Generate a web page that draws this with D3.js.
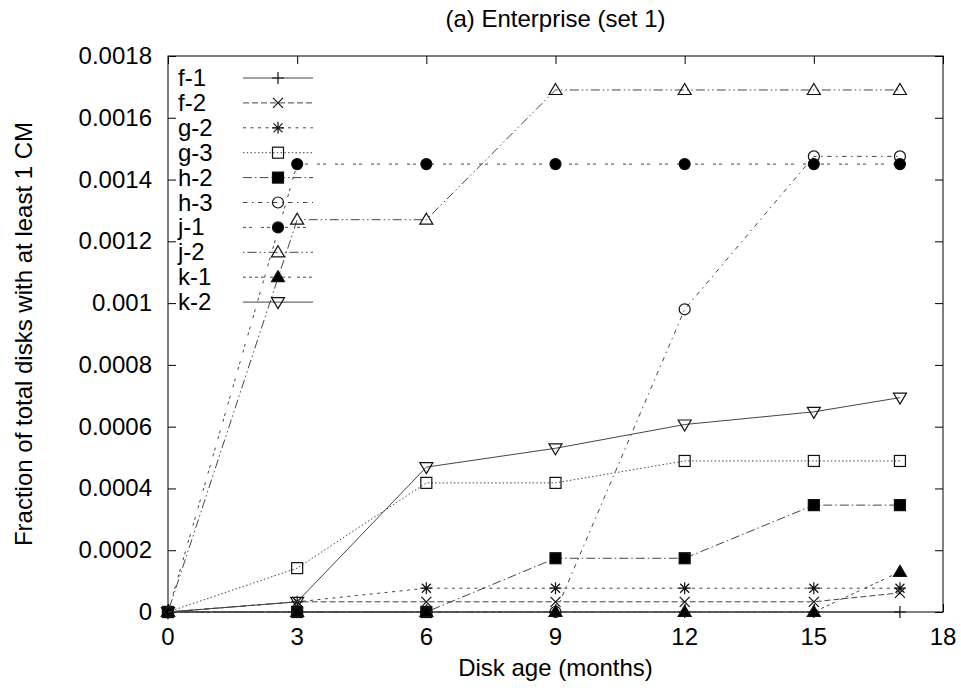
<!DOCTYPE html>
<html>
<head>
<meta charset="utf-8">
<script src="https://cdn.jsdelivr.net/npm/d3@7"></script>
<style>
  body { margin: 0; background: #fff; }
  svg text { font-family: "Liberation Sans", Arial, Helvetica, sans-serif; fill: #000; }
</style>
</head>
<body>
<svg id="chart" width="961" height="691"></svg>
<script>
// Disk age in months at which each fraction was measured
const months = [0, 3, 6, 9, 12, 15, 17];

// Disk models
const seriesNames = ["f-1", "f-2", "g-2", "g-3", "h-2", "h-3", "j-1", "j-2", "k-1", "k-2"];

// Fraction of disks with at least one CM, per model
const f1 = [0, 0, 0, 0, 0, 0, 0];
const f2 = [0, 0.000033, 0.000033, 0.000033, 0.000033, 0.000033, 0.000062];
const g2 = [0, 0.000033, 0.000077, 0.000077, 0.000077, 0.000077, 0.000077];
const g3 = [0, 0.000142, 0.000418, 0.000418, 0.000489, 0.000489, 0.000489];
const h2 = [0, 0, 0, 0.000174, 0.000174, 0.000346, 0.000346];
const h3 = [0, 0, 0, 0, 0.00098, 0.001475, 0.001475];
const j1 = [0, 0.00145, 0.00145, 0.00145, 0.00145, 0.00145, 0.00145];
const j2 = [0, 0.00127, 0.00127, 0.00169, 0.00169, 0.00169, 0.00169];
const k1 = [0, 0, 0, 0, 0, 0, 0.00013];
const k2 = [0, 0.000033, 0.000469, 0.00053, 0.000607, 0.000648, 0.000694];

// Axis ticks
const xTicks = [0, 3, 6, 9, 12, 15, 18];
const yTicks = [0, 0.0002, 0.0004, 0.0006, 0.0008, 0.001, 0.0012, 0.0014, 0.0016, 0.0018];

// Title and axis labels
const titleText = "(a) Enterprise (set 1)";
const xLabel = "Disk age (months)";
const yLabel = "Fraction of total disks with at least 1 CM";

// ---- styling (gnuplot-style line types and point types) ----
const dashUnits = [[], [4, 2], [2, 3], [1, 1.5], [6, 2, 1, 2], [3, 3, 1, 3], [2, 2, 2, 6],
                   [1, 2, 6, 2, 1, 2], [2, 2, 2, 2, 2, 2, 2, 4], []];
const pointTypes = ["plus", "cross", "star", "box", "boxFilled", "circle", "circleFilled",
                    "triangle", "triangleFilled", "triangleDown"];
const dashScale = 1.5;

const seriesValues = [f1, f2, g2, g3, h2, h3, j1, j2, k1, k2];
const series = seriesNames.map((name, i) => ({
  name,
  points: months.map((m, k) => ({ x: m, y: seriesValues[i][k] })),
  dash: dashUnits[i].map(d => d * dashScale).join(","),
  point: pointTypes[i]
}));

const W = 961, H = 691;
const margin = { left: 168, right: 18, top: 56, bottom: 79 };
const plotW = W - margin.left - margin.right;
const plotH = H - margin.top - margin.bottom;
const fontSize = 24;

const svg = d3.select("#chart");
const g = svg.append("g").attr("transform", `translate(${margin.left},${margin.top})`);

const x = d3.scaleLinear().domain([0, 18]).range([0, plotW]);
const y = d3.scaleLinear().domain([0, 0.0018]).range([plotH, 0]);

const fmtY = v => String(+v.toFixed(4));

// Frame
g.append("rect").attr("x", 0).attr("y", 0).attr("width", plotW).attr("height", plotH)
  .attr("fill", "none").attr("stroke", "#000").attr("stroke-width", 1);

// Inward ticks on all four sides (mirrored), via d3 axes
const tickLen = 8;
const axisBottom = d3.axisBottom(x).tickValues(xTicks).tickSize(-tickLen).tickFormat("");
const axisTop = d3.axisTop(x).tickValues(xTicks).tickSize(-tickLen).tickFormat("");
const axisLeft = d3.axisLeft(y).tickValues(yTicks).tickSize(-tickLen).tickFormat("");
const axisRight = d3.axisRight(y).tickValues(yTicks).tickSize(-tickLen).tickFormat("");

function styleAxis(sel) {
  sel.select(".domain").remove();
  sel.selectAll(".tick line").attr("stroke", "#000").attr("stroke-width", 1);
}
g.append("g").attr("transform", `translate(0,${plotH})`).call(axisBottom).call(styleAxis);
g.append("g").call(axisTop).call(styleAxis);
g.append("g").call(axisLeft).call(styleAxis);
g.append("g").attr("transform", `translate(${plotW},0)`).call(axisRight).call(styleAxis);

// Tick labels
g.append("g").selectAll("text").data(yTicks).join("text")
  .attr("x", -16).attr("y", d => y(d) + 8)
  .attr("text-anchor", "end").attr("font-size", fontSize)
  .text(fmtY);

g.append("g").selectAll("text").data(xTicks).join("text")
  .attr("x", d => x(d)).attr("y", plotH + 33)
  .attr("text-anchor", "middle").attr("font-size", fontSize)
  .text(d => d);

// Title and axis titles
svg.append("text").attr("x", margin.left + plotW / 2).attr("y", 27)
  .attr("text-anchor", "middle").attr("font-size", fontSize).text(titleText);
svg.append("text").attr("x", margin.left + plotW / 2).attr("y", 676)
  .attr("text-anchor", "middle").attr("font-size", fontSize).text(xLabel);
svg.append("text").attr("transform", `translate(32,${margin.top + plotH / 2}) rotate(-90)`)
  .attr("text-anchor", "middle").attr("font-size", fontSize).text(yLabel);

// Point marker drawing
function drawMarker(sel, type) {
  const s = 6;
  const stroke = "#111", sw = 1.2;
  switch (type) {
    case "plus":
      sel.append("path").attr("d", `M${-s},0H${s}M0,${-s}V${s}`)
        .attr("stroke", stroke).attr("stroke-width", sw).attr("fill", "none");
      break;
    case "cross":
      sel.append("path").attr("d", `M-5,-5L5,5M-5,5L5,-5`)
        .attr("stroke", stroke).attr("stroke-width", sw).attr("fill", "none");
      break;
    case "star":
      sel.append("path").attr("d", `M${-s},0H${s}M0,${-s}V${s}M-4.5,-4.5L4.5,4.5M-4.5,4.5L4.5,-4.5`)
        .attr("stroke", stroke).attr("stroke-width", sw).attr("fill", "none");
      break;
    case "box":
    case "boxFilled":
      sel.append("rect").attr("x", -5.5).attr("y", -5.5).attr("width", 11).attr("height", 11)
        .attr("stroke", stroke).attr("stroke-width", sw)
        .attr("fill", type === "boxFilled" ? "#000" : "none");
      break;
    case "circle":
    case "circleFilled":
      sel.append("circle").attr("r", 5.5)
        .attr("stroke", stroke).attr("stroke-width", sw)
        .attr("fill", type === "circleFilled" ? "#000" : "none");
      break;
    case "triangle":
    case "triangleFilled":
      sel.append("path").attr("d", "M0,-6.5L6.5,4.5L-6.5,4.5Z")
        .attr("stroke", stroke).attr("stroke-width", sw)
        .attr("fill", type === "triangleFilled" ? "#000" : "none");
      break;
    case "triangleDown":
      sel.append("path").attr("d", "M0,6.5L6.5,-4.5L-6.5,-4.5Z")
        .attr("stroke", stroke).attr("stroke-width", sw).attr("fill", "none");
      break;
  }
}

const line = d3.line().x(d => x(d.x)).y(d => y(d.y));

// Series lines and markers
series.forEach(s => {
  const sg = g.append("g").attr("class", "series");
  sg.append("path").datum(s.points).attr("d", line)
    .attr("fill", "none").attr("stroke", "#444").attr("stroke-width", 1)
    .attr("stroke-dasharray", s.dash || null);
  s.points.forEach(p => {
    const mg = sg.append("g").attr("transform", `translate(${x(p.x)},${y(p.y)})`);
    drawMarker(mg, s.point);
  });
});

// Legend (key) in the upper-left corner
const legendX0 = 10, lineX0 = 75, lineX1 = 145, markX = 110;
series.forEach((s, i) => {
  const ly = 22 + i * 24.9;
  const lg = g.append("g").attr("class", "legend");
  lg.append("text").attr("x", legendX0).attr("y", ly + 8)
    .attr("font-size", fontSize).text(s.name);
  lg.append("line").attr("x1", lineX0).attr("x2", lineX1).attr("y1", ly).attr("y2", ly)
    .attr("stroke", "#444").attr("stroke-width", 1)
    .attr("stroke-dasharray", s.dash || null);
  const mg = lg.append("g").attr("transform", `translate(${markX},${ly})`);
  drawMarker(mg, s.point);
});
</script>
</body>
</html>
